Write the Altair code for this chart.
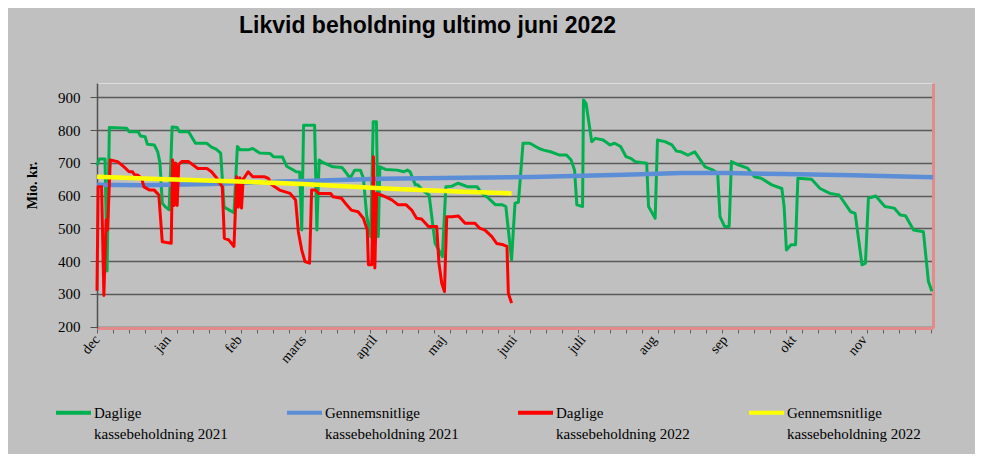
import altair as alt
import pandas as pd

# ---------------- data ----------------
month_labels = ["dec", "jan", "feb", "marts", "april", "maj", "juni", "juli", "aug", "sep", "okt", "nov"]
month_starts = [0, 31, 62, 90, 121, 151, 182, 212, 243, 274, 304, 335]
week_ticks = list(range(0, 365, 7))
y_ticks = [200, 300, 400, 500, 600, 700, 800, 900]

series_names = [
    "Daglige|kassebeholdning 2021",
    "Gennemsnitlige|kassebeholdning 2021",
    "Daglige|kassebeholdning 2022",
    "Gennemsnitlige|kassebeholdning 2022",
]
series_colors = ["#00b050", "#5b8ed6", "#ff0000", "#ffff00"]

green_days = [0, 1, 3.5, 4.4, 5.4, 13, 14, 18, 19, 21, 22, 25, 26.5, 27.5, 28.5, 30, 31.5,
              32.8, 35, 36, 40, 43, 48, 50, 52, 54, 55.5, 58, 59.8, 61.3, 62.5, 66, 68, 71,
              75.5, 77, 81, 82.8, 87, 88.5, 89.4, 90.2, 95, 96, 97, 99, 103, 107, 109, 110.5,
              112.5, 115, 116.3, 117.8, 119.5, 120.6, 122, 122.8, 123.5, 126, 131, 134, 135.5,
              136.7, 139, 140, 143, 145, 147.6, 150.8, 152.3, 155, 157.7, 162, 166, 168, 171,
              174, 177, 178.5, 181, 182.5, 184, 186, 189, 193, 195, 198, 202, 205, 207, 208.5,
              209.5, 212, 212.4, 213.5, 216, 217.6, 221, 224, 226, 228.6, 231, 233, 235, 240,
              240.8, 243.7, 244.7, 248, 251, 253, 255, 258, 261, 265.5, 269, 271, 272, 274,
              276, 277, 280, 284, 287, 290, 294.6, 299, 300, 301, 303, 305, 306, 312, 315.7,
              320, 324, 329, 331, 334, 335.5, 336.8, 340, 344, 348, 350.7, 353, 356.5, 360.8,
              363, 364.5]
green_vals = [692, 712, 712, 370, 808, 806, 795, 795, 782, 780, 757, 755, 734, 700, 577, 565, 557,
              810, 808, 795, 795, 760, 760, 748, 742, 730, 565, 555, 548, 750, 740, 740, 744, 730,
              729, 719, 718, 690, 673, 672, 495, 815, 815, 495, 709, 700, 688, 686, 668, 653,
              678, 678, 654, 536, 475, 826, 826, 475, 688, 680, 678, 673, 678,
              673, 633, 633, 612, 602, 455, 414, 627, 629, 638, 627, 627, 607, 592,
              572, 572, 567, 404, 577, 580, 760, 760, 744, 739, 734, 724, 724, 709, 678,
              572, 567, 892, 882, 765, 775, 770, 755, 760, 750, 719, 714, 704, 699,
              567, 531, 770, 765, 755, 736, 734, 724, 734, 688, 678, 668, 536, 506,
              506, 704, 694, 684, 658, 653, 633, 622, 567, 434, 450, 450, 653, 650, 622,
              607, 602, 551, 546, 389, 394, 592, 599, 567, 562, 541, 539, 495, 490,
              338, 308]

blue_days = [0, 20, 50, 80, 90, 124, 160, 190, 230, 255, 275, 300, 330, 365]
blue_vals = [633, 632, 636, 643, 645, 652, 655, 657, 664, 669, 669, 666, 662, 656]

red_days = [0, 0.5, 2, 3, 4, 4.6, 5.8, 9, 11.8, 14, 15.5, 16.5, 17.8, 19.5, 20.5, 23, 25, 27,
            28.5, 32.4, 33, 33.7, 34.3, 35, 35.7, 37, 40, 44, 48, 50, 51.8, 54.7, 55.6, 57.5,
            59.8, 61, 61.7, 62.4, 63.1, 63.8, 66, 68, 73, 74.8, 76.3, 79.7, 84.3, 86.7, 87.9,
            89.4, 90.8, 92.8, 93.7, 95.5, 96.7, 102, 103, 106.7, 109, 111, 114, 116.3, 118,
            118.5, 120, 120.7, 121.3, 122.1, 124, 125.8, 128.7, 131.5, 135, 137.4, 139.5,
            141.7, 144.7, 148.3, 149.3, 150.5, 151.7, 152.7, 155, 157.8, 160.7, 165, 167,
            169.4, 172.4, 174.5, 177.4, 179, 179.6, 181]
red_vals = [310, 627, 627, 295, 526, 495, 709, 704, 688, 673, 673, 663, 663, 653, 627, 617, 617, 602,
            459, 455, 709, 570, 700, 570, 695, 704, 704, 683, 683, 673, 658, 627, 470, 465,
            445, 658, 565, 655, 562, 650, 673, 658, 658, 653, 633, 617, 607, 587, 490,
            434, 399, 394, 617, 617, 607, 607, 597, 592, 572, 556, 551, 531, 495,
            389, 389, 719, 379, 607, 602, 597, 587, 572, 572, 556, 531,
            529, 506, 506, 394, 333, 307, 536, 536, 538, 516, 516, 501,
            495, 475, 454, 450, 445, 302, 272]

yellow_days = [0, 30, 62, 90, 128, 160, 181]
yellow_vals = [658, 650, 643, 636, 621, 612, 607]

frames = []
for name, days, vals in [
    (series_names[0], green_days, green_vals),
    (series_names[1], blue_days, blue_vals),
    (series_names[2], red_days, red_vals),
    (series_names[3], yellow_days, yellow_vals),
]:
    frames.append(pd.DataFrame({"day": days, "value": vals, "series": name}))
df = pd.concat(frames, ignore_index=True)

# ---------------- chart ----------------
serif = "Liberation Serif"
x_scale = alt.Scale(domain=[0, 365], nice=False, zero=False)
y_scale = alt.Scale(domain=[196, 944], nice=False, zero=False)

label_expr = "[" + ",".join("'%s'" % m for m in month_labels) + "][indexof([" + \
    ",".join(str(v) for v in month_starts) + "], datum.value)]"

color = alt.Color(
    "series:N",
    scale=alt.Scale(domain=series_names, range=series_colors),
    legend=alt.Legend(
        orient="none", legendX=-43, legendY=310, direction="horizontal", columns=4,
        title=None, symbolType="stroke", symbolSize=1225, symbolStrokeWidth=4,
        labelFont=serif, labelFontSize=15, labelColor="black",
        labelExpr="split(datum.label, '|')", labelBaseline="middle", labelLimit=300,
        gridAlign="all", columnPadding=51, padding=0, labelOffset=1,
    ),
)

base = alt.Chart(df)

green = base.transform_filter(alt.datum.series == series_names[0]).mark_line(
    strokeWidth=3, strokeJoin="round"
).encode(
    x=alt.X("day:Q", scale=x_scale, axis=alt.Axis(
        values=week_ticks, labels=False, ticks=True, tickSize=5, tickColor="#606060",
        tickWidth=1, domainColor="#e58a8a", domainWidth=3, grid=False, title=None)),
    y=alt.Y("value:Q", scale=y_scale, axis=alt.Axis(
        values=y_ticks, grid=True, gridColor="#5a5a5a", gridWidth=1.3,
        domainColor="#505050", domainWidth=1.5, tickColor="#505050", tickSize=7,
        labelFont=serif, labelFontSize=15, labelColor="black", labelPadding=10,
        title="Mio. kr.", titleFont=serif, titleFontSize=14, titleFontWeight="bold",
        titleColor="black", titleX=-65, titleY=102, titleAngle=-90, titleBaseline="middle",
        titleAlign="center")),
    color=color,
    order="day:Q",
)

blue = base.transform_filter(alt.datum.series == series_names[1]).mark_line(
    strokeWidth=4.5
).encode(
    x=alt.X("day:Q", scale=x_scale, axis=None),
    y=alt.Y("value:Q", scale=y_scale, axis=None),
    color=color,
)

red = base.transform_filter(alt.datum.series == series_names[2]).mark_line(
    strokeWidth=3, strokeJoin="round"
).encode(
    x=alt.X("day:Q", scale=x_scale, axis=None),
    y=alt.Y("value:Q", scale=y_scale, axis=None),
    color=color,
    order="day:Q",
)

yellow = base.transform_filter(alt.datum.series == series_names[3]).mark_line(
    strokeWidth=4.5
).encode(
    x=alt.X("day:Q", scale=x_scale, axis=alt.Axis(
        orient="bottom", values=month_starts, labelExpr=label_expr, ticks=False,
        domain=False, grid=False, title=None, labelAngle=-50, labelAlign="right",
        labelBaseline="middle", labelPadding=9, labelFont=serif, labelFontSize=14,
        labelColor="black", labelOverlap=False)),
    y=alt.Y("value:Q", scale=y_scale, axis=alt.Axis(
        orient="right", labels=False, ticks=False, grid=False, title=None,
        domainColor="#e58a8a", domainWidth=3)),
    color=color,
)

chart = alt.layer(green, blue, red, yellow).resolve_scale(
    x="independent", y="independent", color="shared"
).properties(
    width=836, height=245,
    background="#c0c0c0",
    autosize=alt.AutoSizeParams(type="none"),
    padding={"left": 89, "top": 75, "right": 42, "bottom": 126},
    title=alt.TitleParams(
        "Likvid beholdning ultimo juni 2022", anchor="start", dx=214, offset=45,
        font="Liberation Sans", fontSize=23, fontWeight="bold", color="black"),
).configure_view(
    fill="#c5d9f1", stroke=None
).configure(
    style={"guide-label": {"lineHeight": 21}}
)

chart.save("out.html", embed_options={"renderer": "svg", "actions": False})
